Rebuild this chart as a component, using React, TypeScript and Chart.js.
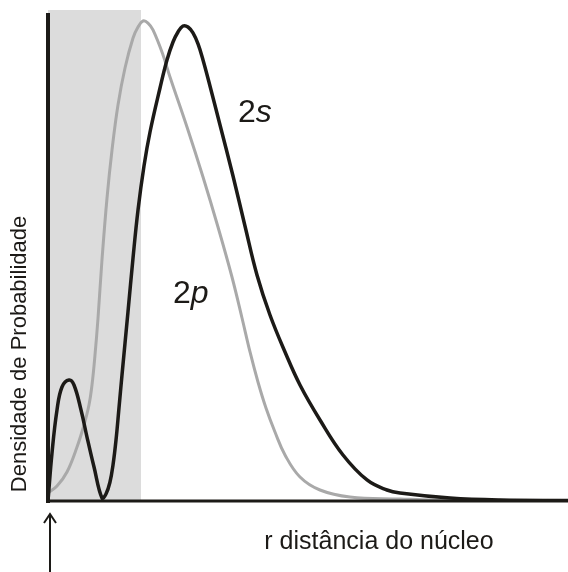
import { useEffect, useRef } from "react";
import { Chart, registerables } from "chart.js";

Chart.register(...registerables);

// r (arbitrary units) and probability density (% of max)
const r2s = [0, 0.077, 0.173, 0.269, 0.404, 0.5, 0.635, 0.75, 0.885, 1.038, 1.115, 1.192, 1.25, 1.308, 1.365, 1.423, 1.538, 1.635, 1.731, 1.846, 1.962, 2.154, 2.288, 2.404, 2.5, 2.596, 2.692, 2.788, 2.885, 2.981, 3.115, 3.308, 3.558, 3.788, 4.019, 4.269, 4.558, 4.846, 5.231, 5.673, 6.135, 6.519, 6.769, 7.731, 8.692, 10];
const dens2s = [0, 9.78, 18.53, 23.22, 24.64, 23.63, 18.53, 13.03, 6.92, 0.61, 1.43, 3.87, 7.33, 12.42, 18.94, 25.66, 38.49, 49.49, 59.27, 68.23, 75.15, 84.11, 89.82, 93.48, 95.52, 96.74, 96.54, 95.32, 93.08, 89.82, 84.52, 76.58, 66.19, 56.01, 46.03, 37.88, 30.35, 23.63, 16.5, 9.37, 4.28, 2.24, 1.63, 0.61, 0.2, 0.1];

const r2p = [0, 0.173, 0.365, 0.558, 0.692, 0.788, 0.846, 0.904, 0.962, 1.038, 1.135, 1.231, 1.346, 1.481, 1.635, 1.731, 1.827, 1.923, 2.019, 2.212, 2.346, 2.673, 2.981, 3.269, 3.538, 3.731, 3.885, 4.038, 4.192, 4.365, 4.558, 4.846, 5.231, 5.808, 6.769, 7.404, 10];
const dens2p = [1.63, 3.05, 5.91, 11.0, 15.48, 19.55, 23.63, 29.74, 37.27, 49.08, 61.71, 71.49, 80.65, 88.19, 94.3, 96.54, 97.76, 97.35, 95.93, 90.84, 86.35, 76.17, 65.99, 55.8, 45.62, 37.27, 30.35, 24.24, 18.94, 14.05, 9.37, 4.89, 2.24, 0.81, 0.41, 0.2, 0.1];

const shadeR = [0, 1.79];
const shadeTop = [100, 100];

const rMin = 0;
const rMax = 10;
const densMin = 0;
const densMax = 100;

const yTitle = "Densidade de Probabilidade";
const xTitle = "r distância do núcleo";
const label2s = { num: "2", sub: "s", r: 3.654, d: 77.2 };
const label2p = { num: "2", sub: "p", r: 2.404, d: 40.3 };

const INK = "#1c1a17";
const GRAY = "#a9a9a9";
const SHADE = "#dcdcdc";
const FONT = "'Liberation Sans', Arial, Helvetica, sans-serif";

export default function App() {
  const ref = useRef<HTMLCanvasElement | null>(null);

  useEffect(() => {
    const canvas = ref.current;
    if (!canvas) return;

    const overlay = {
      id: "overlay",
      afterDatasetsDraw(chart: any) {
        const ctx = chart.ctx as CanvasRenderingContext2D;
        const xs = chart.scales.x;
        const ys = chart.scales.y;
        const x0 = xs.getPixelForValue(rMin);
        const y0 = ys.getPixelForValue(densMin);
        ctx.save();
        ctx.strokeStyle = INK;
        ctx.lineCap = "butt";
        ctx.lineWidth = 4;
        ctx.beginPath();
        ctx.moveTo(x0, ys.getPixelForValue(densMax) + 3);
        ctx.lineTo(x0, y0 + 2);
        ctx.stroke();
        ctx.lineWidth = 3;
        ctx.beginPath();
        ctx.moveTo(x0 - 2, y0);
        ctx.lineTo(xs.getPixelForValue(rMax), y0);
        ctx.stroke();
        ctx.restore();
      },
      afterDraw(chart: any) {
        const ctx = chart.ctx as CanvasRenderingContext2D;
        const xs = chart.scales.x;
        const ys = chart.scales.y;
        const x0 = xs.getPixelForValue(rMin);
        const y0 = ys.getPixelForValue(densMin);
        ctx.save();
        ctx.fillStyle = INK;
        ctx.textBaseline = "alphabetic";
        ctx.textAlign = "left";
        const drawLabel = (l: any) => {
          const px = xs.getPixelForValue(l.r);
          const py = ys.getPixelForValue(l.d);
          ctx.font = `32px ${FONT}`;
          ctx.fillText(l.num, px, py);
          const w = ctx.measureText(l.num).width;
          ctx.font = `italic 32px ${FONT}`;
          ctx.fillText(l.sub, px + w, py);
        };
        drawLabel(label2s);
        drawLabel(label2p);

        ctx.font = `25px ${FONT}`;
        ctx.textAlign = "center";
        ctx.fillText(xTitle, 379, 549);

        ctx.save();
        ctx.translate(26, 354);
        ctx.rotate(-Math.PI / 2);
        ctx.font = `22px ${FONT}`;
        ctx.textAlign = "center";
        ctx.fillText(yTitle, 0, 0);
        ctx.restore();

        ctx.strokeStyle = INK;
        ctx.lineWidth = 2;
        ctx.beginPath();
        ctx.moveTo(x0 + 2, 572);
        ctx.lineTo(x0 + 2, y0 + 13);
        ctx.moveTo(x0 - 4, y0 + 22);
        ctx.lineTo(x0 + 2, y0 + 13);
        ctx.lineTo(x0 + 8, y0 + 22);
        ctx.stroke();
        ctx.restore();
      },
    };

    const chart = new Chart(canvas, {
      type: "line",
      data: {
        datasets: [
          {
            label: "2s",
            data: r2s.map((r, i) => ({ x: r, y: dens2s[i] })),
            borderColor: INK,
            borderWidth: 3.5,
            pointRadius: 0,
            fill: false,
            tension: 0.4,
            order: 1,
          },
          {
            label: "2p",
            data: r2p.map((r, i) => ({ x: r, y: dens2p[i] })),
            borderColor: GRAY,
            borderWidth: 3,
            pointRadius: 0,
            fill: false,
            tension: 0.4,
            order: 2,
          },
          {
            label: "shade",
            data: shadeR.map((r, i) => ({ x: r, y: shadeTop[i] })),
            borderWidth: 0,
            borderColor: SHADE,
            backgroundColor: SHADE,
            pointRadius: 0,
            fill: "origin",
            tension: 0,
            order: 3,
          },
        ],
      },
      options: {
        animation: false,
        responsive: false,
        devicePixelRatio: 1,
        layout: { padding: { left: 48, right: 0, top: 10, bottom: 71 } },
        scales: {
          x: { type: "linear", min: rMin, max: rMax, display: false },
          y: { type: "linear", min: densMin, max: densMax, display: false },
        },
        plugins: {
          legend: { display: false },
          tooltip: { enabled: false },
        },
      },
      plugins: [overlay],
    });

    return () => chart.destroy();
  }, []);

  return (
    <div style={{ position: "fixed", left: 0, top: 0, width: 568, height: 572, background: "#fff" }}>
      <canvas ref={ref} width={568} height={572} style={{ display: "block" }} />
    </div>
  );
}
